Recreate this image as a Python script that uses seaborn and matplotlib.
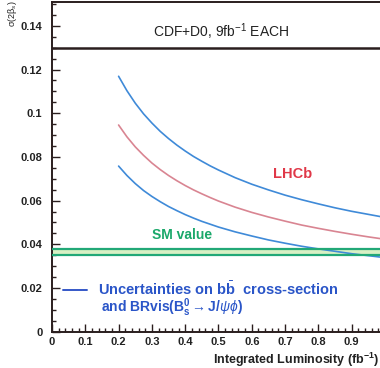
import numpy as np
import pandas as pd
import matplotlib
matplotlib.use("Agg")
import matplotlib.pyplot as plt
import seaborn as sns
from matplotlib.lines import Line2D
from matplotlib.ticker import MultipleLocator, FixedLocator, FixedFormatter

# ---- data ----
lumi = [0.200, 0.225, 0.250, 0.275, 0.300, 0.325, 0.350, 0.375, 0.400, 0.425,
        0.450, 0.475, 0.500, 0.55, 0.60, 0.65, 0.70, 0.75, 0.80, 0.85,
        0.90, 0.95, 1.00]
upper = [0.1169, 0.1103, 0.1046, 0.0997, 0.0955, 0.0917, 0.0884, 0.0854, 0.0827, 0.0802,
         0.0780, 0.0759, 0.0740, 0.0705, 0.0675, 0.0649, 0.0625, 0.0604, 0.0585, 0.0567,
         0.0551, 0.0537, 0.0523]
central = [0.0946, 0.0892, 0.0846, 0.0807, 0.0772, 0.0742, 0.0715, 0.0691, 0.0669, 0.0649,
           0.0631, 0.0614, 0.0598, 0.0570, 0.0546, 0.0525, 0.0506, 0.0488, 0.0473, 0.0459,
           0.0446, 0.0434, 0.0423]
lower = [0.0758, 0.0715, 0.0678, 0.0646, 0.0619, 0.0595, 0.0573, 0.0554, 0.0536, 0.0520,
         0.0505, 0.0492, 0.0479, 0.0457, 0.0438, 0.0420, 0.0405, 0.0391, 0.0379, 0.0368,
         0.0357, 0.0348, 0.0339]
sm_band = [0.0353, 0.0377]
cdf_d0_level = 0.13
x_ticks = [0, 0.1, 0.2, 0.3, 0.4, 0.5, 0.6, 0.7, 0.8, 0.9, 1.0]
x_tick_labels = ["0", "0.1", "0.2", "0.3", "0.4", "0.5", "0.6", "0.7", "0.8", "0.9", "1"]
y_ticks = [0, 0.02, 0.04, 0.06, 0.08, 0.10, 0.12, 0.14]
y_tick_labels = ["0", "0.02", "0.04", "0.06", "0.08", "0.1", "0.12", "0.14"]

df = pd.DataFrame({
    "lumi": lumi * 3,
    "sigma": upper + central + lower,
    "curve": ["upper"] * len(lumi) + ["LHCb"] * len(lumi) + ["lower"] * len(lumi),
})

sns.set_theme(style="white")
plt.rcParams["font.family"] = ["Liberation Sans", "DejaVu Sans"]
plt.rcParams["mathtext.fontset"] = "custom"
plt.rcParams["mathtext.rm"] = "Liberation Sans"
plt.rcParams["mathtext.it"] = "Liberation Sans:italic"
plt.rcParams["mathtext.bf"] = "Liberation Sans:bold"

fig = plt.figure(figsize=(3.8, 3.68), dpi=100)
ax = fig.add_axes([52 / 380, 36.3 / 368, 328 / 380, 329.7 / 368])

BLUE = "#3f8ad8"
PINK = "#d98592"
GREEN = "#22a877"

# SM band
ax.axhspan(sm_band[0], sm_band[1], color="#d8f0c4", zorder=1, lw=0)
for v in sm_band:
    ax.axhline(v, color=GREEN, lw=1.6, zorder=4)

sns.lineplot(data=df, x="lumi", y="sigma", hue="curve",
             palette={"upper": BLUE, "LHCb": PINK, "lower": BLUE},
             linewidth=1.2, legend=False, ax=ax, zorder=3)

ax.axhline(cdf_d0_level, color="#2a1e1e", lw=1.8, zorder=5)

ax.set_xlim(0, 0.985)
ax.set_ylim(0, 0.1509)

ax.xaxis.set_major_locator(FixedLocator(x_ticks))
ax.xaxis.set_major_formatter(FixedFormatter(x_tick_labels))
ax.xaxis.set_minor_locator(MultipleLocator(0.02))
ax.yaxis.set_major_locator(FixedLocator(y_ticks))
ax.yaxis.set_major_formatter(FixedFormatter(y_tick_labels))
ax.yaxis.set_minor_locator(MultipleLocator(0.005))

ax.tick_params(axis="both", which="major", direction="in", length=6, width=1.0,
               color="#2a1e1e", labelsize=8, labelcolor="#222222")
ax.tick_params(axis="both", which="minor", direction="in", length=3, width=1.0,
               color="#2a1e1e")
ax.tick_params(axis="x", which="both", top=False, bottom=True, pad=4)
ax.tick_params(axis="y", which="both", right=False, left=True, pad=7)
for lab in ax.get_xticklabels() + ax.get_yticklabels():
    lab.set_fontweight("bold")

for s in ["left", "bottom", "top"]:
    ax.spines[s].set_color("#2a1e1e")
    ax.spines[s].set_linewidth(1.4)
ax.spines["right"].set_visible(False)

# labels
ax.set_ylabel("")
ax.set_xlabel(r"Integrated Luminosity (fb$^{\mathbf{-1}}$)", fontsize=9,
              fontweight="bold", color="#222222", loc="right")
ax.xaxis.set_label_coords(0.997, -0.058)
ax.text(-0.12, 0.925, r"σ(2β$_s$)", transform=ax.transAxes, rotation=90,
        ha="center", va="bottom", fontsize=6.5, color="#222222")

ax.text(0.515, 0.909, r"CDF+D0, 9fb$^{-1}$ EACH", transform=ax.transAxes,
        ha="center", va="center", fontsize=10, color="#222222")
ax.text(0.724, 0.0722, "LHCb", ha="center", va="center", fontsize=10.5,
        fontweight="bold", color="#e03848")
ax.text(0.39, 0.0443, "SM value", ha="center", va="center", fontsize=10,
        fontweight="bold", color="#1aa86a")

handle = Line2D([], [], color="#3558c8", lw=1.4)
leg = ax.legend([handle], [r"Uncertainties on b$\bar{\mathbf{b}}$  cross-section"],
                loc="center left", bbox_to_anchor=(0.034, 0.129), frameon=False,
                handlelength=1.65, handletextpad=0.75, borderaxespad=0, borderpad=0,
                prop={"size": 10.5, "weight": "bold"})
for t in leg.get_texts():
    t.set_color("#2a55c8")
ax.text(0.148, 0.0112, r"and BRvis(B$_\mathbf{s}^\mathbf{0}$$\rightarrow$J/$\psi\phi$)",
        ha="left", va="center", fontsize=10, fontweight="bold", color="#2a55c8",
        transform=ax.get_yaxis_transform())

fig.savefig("out.png", dpi=100)
